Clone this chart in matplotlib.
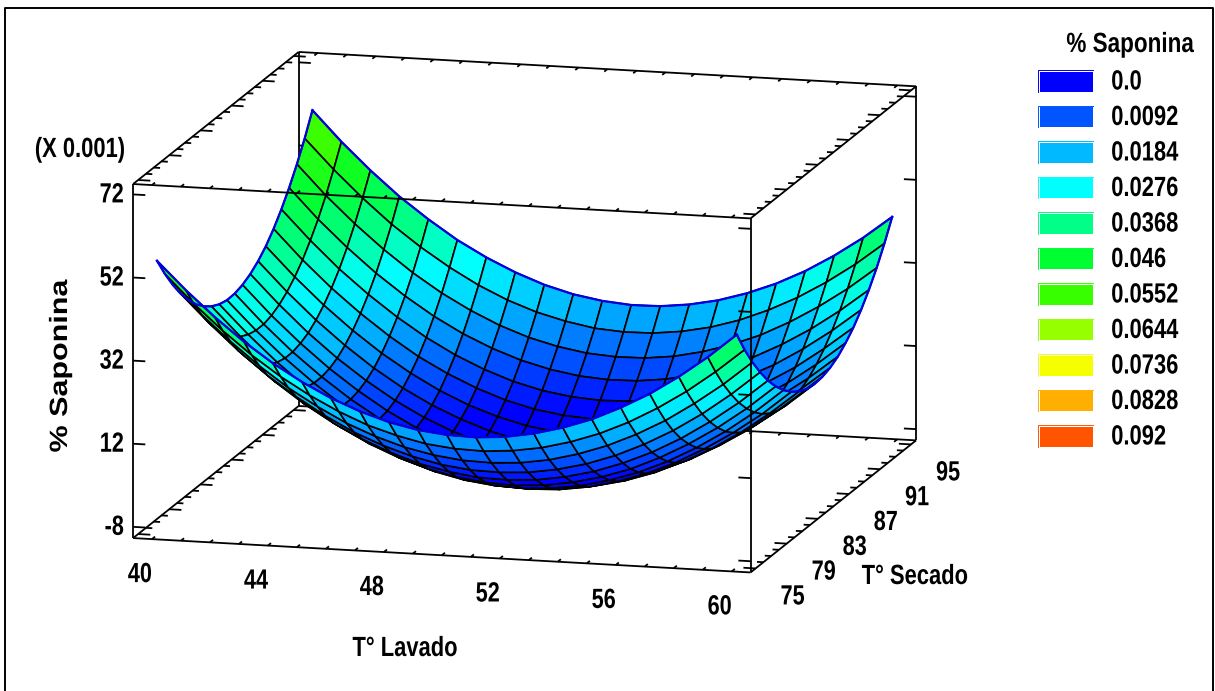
import numpy as np
import matplotlib
matplotlib.use("Agg")
import matplotlib.pyplot as plt
from matplotlib.colors import LinearSegmentedColormap, Normalize
from matplotlib.patches import Rectangle
from matplotlib.patheffects import AbstractPathEffect
from matplotlib.transforms import Affine2D
from mpl_toolkits.mplot3d import proj3d

# surface, z in units of 0.001
t_lavado = [40, 41, 42, 43, 44, 45, 46, 47, 48, 49, 50, 51, 52, 53, 54, 55, 56, 57, 58, 59, 60]
t_secado = [75, 76, 77, 78, 79, 80, 81, 82, 83, 84, 85, 86, 87, 88, 89, 90, 91, 92, 93, 94, 95]
saponina = [
    [55.3, 48.6, 42.5, 37.0, 32.2, 28.1, 24.6, 21.8, 19.6, 18.1, 17.3, 17.1, 17.6, 18.8, 20.6, 23.0, 26.2, 29.9, 34.4, 39.5, 45.3],
    [50.7, 43.9, 37.8, 32.3, 27.5, 23.4, 19.9, 17.0, 14.9, 13.3, 12.5, 12.3, 12.8, 13.9, 15.7, 18.1, 21.2, 25.0, 29.4, 34.5, 40.2],
    [46.6, 39.8, 33.7, 28.2, 23.3, 19.2, 15.6, 12.8, 10.6, 9.1, 8.2, 8.0, 8.4, 9.5, 11.3, 13.7, 16.8, 20.5, 25.0, 30.0, 35.7],
    [43.0, 36.2, 30.0, 24.5, 19.7, 15.5, 11.9, 9.1, 6.9, 5.3, 4.4, 4.2, 4.6, 5.7, 7.4, 9.8, 12.9, 16.6, 21.0, 26.1, 31.8],
    [40.0, 33.1, 26.9, 21.4, 16.5, 12.3, 8.8, 5.9, 3.6, 2.1, 1.1, 0.9, 1.3, 2.4, 4.1, 6.5, 9.5, 13.2, 17.6, 22.6, 28.3],
    [37.4, 30.6, 24.3, 18.8, 13.9, 9.7, 6.1, 3.2, 0.9, -0.7, -1.6, -1.9, -1.5, -0.4, 1.3, 3.6, 6.7, 10.4, 14.7, 19.7, 25.4],
    [35.4, 28.5, 22.3, 16.7, 11.8, 7.5, 4.0, 1.0, -1.3, -2.9, -3.8, -4.1, -3.7, -2.7, -1.0, 1.3, 4.3, 8.0, 12.3, 17.3, 23.0],
    [33.9, 27.0, 20.7, 15.1, 10.2, 5.9, 2.3, -0.6, -2.9, -4.6, -5.5, -5.8, -5.5, -4.5, -2.8, -0.5, 2.5, 6.2, 10.5, 15.4, 21.1],
    [32.9, 26.0, 19.7, 14.1, 9.2, 4.9, 1.2, -1.8, -4.1, -5.7, -6.7, -7.0, -6.7, -5.7, -4.1, -1.8, 1.2, 4.8, 9.1, 14.1, 19.7],
    [32.4, 25.5, 19.2, 13.6, 8.6, 4.3, 0.6, -2.4, -4.7, -6.4, -7.4, -7.7, -7.4, -6.4, -4.8, -2.5, 0.4, 4.1, 8.3, 13.3, 18.8],
    [32.5, 25.5, 19.2, 13.6, 8.6, 4.3, 0.6, -2.4, -4.8, -6.5, -7.5, -7.9, -7.6, -6.6, -5.0, -2.8, 0.2, 3.8, 8.0, 12.9, 18.5],
    [33.1, 26.1, 19.8, 14.1, 9.1, 4.7, 1.0, -2.0, -4.4, -6.1, -7.1, -7.5, -7.2, -6.3, -4.7, -2.5, 0.4, 4.0, 8.2, 13.1, 18.7],
    [34.2, 27.2, 20.8, 15.1, 10.1, 5.7, 2.0, -1.0, -3.4, -5.2, -6.2, -6.6, -6.4, -5.5, -3.9, -1.7, 1.2, 4.8, 9.0, 13.9, 19.4],
    [35.8, 28.8, 22.4, 16.7, 11.6, 7.2, 3.5, 0.5, -2.0, -3.7, -4.8, -5.2, -5.0, -4.1, -2.6, -0.3, 2.5, 6.1, 10.3, 15.1, 20.6],
    [37.9, 30.9, 24.5, 18.8, 13.7, 9.3, 5.5, 2.4, 0.0, -1.8, -2.9, -3.3, -3.1, -2.2, -0.7, 1.5, 4.4, 7.9, 12.0, 16.9, 22.4],
    [40.6, 33.5, 27.1, 21.4, 16.3, 11.8, 8.1, 5.0, 2.5, 0.7, -0.4, -0.9, -0.7, 0.2, 1.7, 3.9, 6.7, 10.2, 14.3, 19.2, 24.6],
    [43.8, 36.7, 30.2, 24.5, 19.4, 14.9, 11.1, 8.0, 5.5, 3.7, 2.6, 2.1, 2.3, 3.1, 4.6, 6.7, 9.6, 13.0, 17.2, 22.0, 27.4],
    [47.5, 40.3, 33.9, 28.1, 23.0, 18.5, 14.7, 11.6, 9.1, 7.3, 6.1, 5.6, 5.7, 6.5, 8.0, 10.2, 12.9, 16.4, 20.5, 25.3, 30.7],
    [51.7, 44.5, 38.1, 32.3, 27.1, 22.6, 18.8, 15.6, 13.1, 11.3, 10.1, 9.6, 9.7, 10.5, 12.0, 14.1, 16.8, 20.3, 24.4, 29.1, 34.5],
    [56.4, 49.3, 42.8, 36.9, 31.8, 27.3, 23.4, 20.2, 17.7, 15.9, 14.6, 14.1, 14.2, 15.0, 16.4, 18.5, 21.3, 24.7, 28.8, 33.5, 38.9],
    [61.7, 54.5, 48.0, 42.1, 37.0, 32.4, 28.6, 25.4, 22.8, 20.9, 19.7, 19.1, 19.2, 20.0, 21.4, 23.5, 26.2, 29.6, 33.7, 38.4, 43.8],
]

x_ticks = [40, 44, 48, 52, 56, 60]
y_ticks = [75, 79, 83, 87, 91, 95]
z_ticks = [-8, 12, 32, 52, 72]
x_minor = list(range(40, 61))
y_minor = list(range(75, 96))

legend_vals = ["0.0", "0.0092", "0.0184", "0.0276", "0.0368", "0.046", "0.0552", "0.0644", "0.0736", "0.0828", "0.092"]
legend_cols = ["#0000ff", "#0055ff", "#00b9ff", "#00ffff", "#00ff87", "#00ff32",
               "#37ff00", "#96ff00", "#f5ff00", "#ffaf00", "#ff5500"]

xlo, xhi = 39.35, 60.65
ylo, yhi = 74.35, 95.65
zlo, zhi = -10.7, 74.5
font = "Liberation Sans"


class Squeeze(AbstractPathEffect):
    # the reference text is condensed (or stretched), no such font is installed
    def __init__(self, sx, anchor="center"):
        super().__init__()
        self.sx = sx
        self.anchor = anchor

    def draw_path(self, renderer, gc, tpath, affine, rgbFace=None):
        ext = tpath.get_extents()
        pivot = {"left": ext.x0, "right": ext.x1, "center": (ext.x0 + ext.x1) / 2}[self.anchor]
        t = Affine2D().translate(-pivot, 0).scale(self.sx, 1).translate(pivot, 0)
        renderer.draw_path(gc, tpath, t + affine, rgbFace)


X, Y = np.meshgrid(t_lavado, t_secado)
Z = np.array(saponina)
cmap = LinearSegmentedColormap.from_list("sap", legend_cols)
norm = Normalize(0, 92)

fig = plt.figure(figsize=(12.15, 6.91), dpi=100)
side = 1000 / 1215
ax = fig.add_axes([0, -0.3, side, side * 1215 / 691], projection="3d", proj_type="ortho", computed_zorder=False)
ax.set_xlim(xlo, xhi, view_margin=0)
ax.set_ylim(ylo, yhi, view_margin=0)
ax.set_zlim(zlo, zhi, view_margin=0)
ax.view_init(elev=12.17, azim=-75.2)
ax.set_axis_off()
box = (638.5, 647.9, 362.1)


def to_px(x, y, z):
    px, py, _ = proj3d.proj_transform(x, y, z, ax.get_proj())
    return ax.transData.transform((px, py))


# fit the box onto its place in the picture
ax.set_box_aspect(box)
fig.canvas.draw()
a = to_px(xlo, ylo, zlo)
b = to_px(xhi, ylo, zlo)
ax.set_box_aspect(box, zoom=618.4 / np.hypot(*(b - a)))
fig.canvas.draw()
c = (to_px(xlo, ylo, zlo) + to_px(xhi, yhi, zhi)) / 2
pos = ax.get_position()
ax.set_position([pos.x0 + (524.6 - c[0]) / 1215, pos.y0 + (691 - 312.2 - c[1]) / 691, pos.width, pos.height])
fig.canvas.draw()


def seg(p, q, z=1):
    ax.plot([p[0], q[0]], [p[1], q[1]], [p[2], q[2]], color="k", lw=1.3, zorder=z, solid_capstyle="butt")


# back of the box goes behind the surface
for p, q in [((xlo, yhi, zlo), (xhi, yhi, zlo)), ((xlo, yhi, zhi), (xhi, yhi, zhi)),
             ((xlo, yhi, zlo), (xlo, yhi, zhi)), ((xhi, yhi, zlo), (xhi, yhi, zhi)),
             ((xlo, ylo, zlo), (xlo, yhi, zlo)), ((xhi, ylo, zlo), (xhi, yhi, zlo)),
             ((xlo, ylo, zhi), (xlo, yhi, zhi)), ((xhi, ylo, zhi), (xhi, yhi, zhi))]:
    seg(p, q, 1)
for t in x_minor:
    for zz in (zlo, zhi):
        seg((t, yhi, zz), (t, yhi - 0.4, zz), 1)
for t in y_minor:
    ln = 0.42 if t in y_ticks else 0.22
    for zz in (zlo, zhi):
        seg((xlo, t, zz), (xlo + ln, t, zz), 1)
        seg((xhi, t, zz), (xhi - ln, t, zz), 1)
for t in z_ticks:
    seg((xlo, yhi, t), (xlo + 0.42, yhi, t), 1)
    seg((xhi, yhi, t), (xhi - 0.42, yhi, t), 1)

ax.plot_surface(X, Y, Z, cmap=cmap, norm=norm, rstride=1, cstride=1,
                edgecolor="k", linewidth=1.2, antialiased=True, zorder=2)

# blue outline of the sheet
blue = "#0000e0"
ax.plot(X[-1], Y[-1], Z[-1], color=blue, lw=1.6, zorder=3)
ax.plot(X[:, 0], Y[:, 0], Z[:, 0], color=blue, lw=1.6, zorder=3)
ax.plot(X[:, -1], Y[:, -1], Z[:, -1], color=blue, lw=1.6, zorder=3)
ax.plot(X[0], Y[0], Z[0], color=blue, lw=1.6, zorder=3)

# front of the box stays on top
for p, q in [((xlo, ylo, zlo), (xhi, ylo, zlo)), ((xlo, ylo, zhi), (xhi, ylo, zhi)),
             ((xlo, ylo, zlo), (xlo, ylo, zhi)), ((xhi, ylo, zlo), (xhi, ylo, zhi))]:
    seg(p, q, 4)
for t in x_minor:
    for zz in (zlo, zhi):
        seg((t, ylo, zz), (t, ylo + 0.4, zz), 4)
for t in z_ticks:
    seg((xlo, ylo, t), (xlo + 0.42, ylo, t), 4)
    seg((xhi, ylo, t), (xhi - 0.42, ylo, t), 4)


def tick_label(x, y, z, txt, dx, dy, ha="center"):
    px, py, _ = proj3d.proj_transform(x, y, z, ax.get_proj())
    ax.annotate(txt, xy=(px, py), xytext=(dx, dy), textcoords="offset pixels", ha=ha, va="center",
                family=font, weight="bold", fontsize=20, zorder=5,
                path_effects=[Squeeze(0.78, ha)])


for t in x_ticks:
    tick_label(t, ylo, zlo, str(t), -12, -36)
for t in y_ticks:
    tick_label(xhi, t, zlo, str(t), 37, -29)
for t in z_ticks:
    tick_label(xlo, ylo, t, str(t), -9, -1, ha="right")

# flat layer in picture pixels: frame, titles, legend
top = fig.add_axes([0, 0, 1, 1])
top.set_xlim(0, 1215)
top.set_ylim(691, 0)
top.axis("off")
top.plot([5, 5, 1213, 1213], [691, 8, 8, 691], color="k", lw=1.4)

txt = dict(family=font, weight="bold", fontsize=20, ha="center", va="center")
top.text(405, 649, "T° Lavado", path_effects=[Squeeze(0.79)], **txt)
top.text(915, 577, "T° Secado", path_effects=[Squeeze(0.79)], **txt)
top.text(80, 150, "(X 0.001)", path_effects=[Squeeze(0.79)], **txt)
top.text(1130, 45, "% Saponina", path_effects=[Squeeze(0.81)], **txt)
top.text(60, 366, "% Saponina", rotation=90, family=font, weight="bold", fontsize=18,
         ha="center", va="center", path_effects=[Squeeze(1.22)])

for i, (val, col) in enumerate(zip(legend_vals, legend_cols)):
    yc = 81.5 + i * 35.5
    top.plot([1038, 1038, 1093], [yc + 10, yc - 11.5, yc - 11.5], color=col, lw=0.7)
    top.add_patch(Rectangle((1040, yc - 10), 53, 20, facecolor=col, edgecolor="none"))
    top.text(1111, yc + 1, val, family=font, weight="bold", fontsize=20, ha="left", va="center",
             path_effects=[Squeeze(0.79, "left")])

fig.savefig("out.png", dpi=100)
